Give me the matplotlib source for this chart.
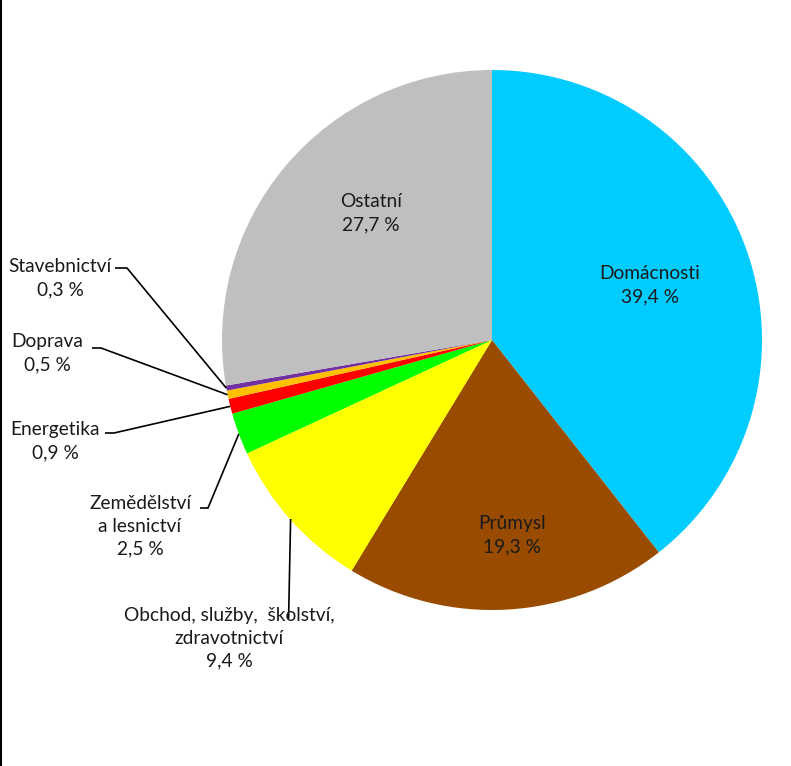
import matplotlib
matplotlib.use("Agg")
import matplotlib.pyplot as plt
import numpy as np
from matplotlib.lines import Line2D

categories = ["Domácnosti", "Průmysl", "Obchod, služby,  školství,\nzdravotnictví",
              "Zemědělství\na lesnictví", "Energetika", "Doprava", "Stavebnictví", "Ostatní"]
values = [39.4, 19.3, 9.4, 2.5, 0.9, 0.5, 0.3, 27.7]
colors = ["#00CCFF", "#994C00", "#FFFF00", "#00FF00", "#FF0000", "#FFC000", "#7030A0", "#BFBFBF"]

W, H = 791, 766
plt.rcParams['font.family'] = ['Lato', 'DejaVu Sans']
fig = plt.figure(figsize=(W / 100, H / 100), dpi=100)

cx, cy, R = 492, 340, 270
ax2 = fig.add_axes([0, 0, 1, 1])
wedges, _ = ax2.pie(values, colors=colors, startangle=90, counterclock=False,
                    center=(cx, H - cy), radius=R, frame=True,
                    wedgeprops=dict(linewidth=0))
ax2.set_xlim(0, W)
ax2.set_ylim(0, H)
ax2.axis("off")

ax = fig.add_axes([0, 0, 1, 1])
ax.set_xlim(0, W)
ax.set_ylim(H, 0)
ax.axis("off")
ax.patch.set_alpha(0)

def fmt(v):
    return f"{v:.1f}".replace(".", ",") + " %"

def edge_point(w, r=R):
    a = np.deg2rad((w.theta1 + w.theta2) / 2)
    return cx + r * np.cos(a), cy - r * np.sin(a)

fs = 13.8
tc = "#1a1a1a"
ls = 1.42
inside = {0: (650, 285), 1: (512, 535), 7: (371, 213)}
for i, (x, y) in inside.items():
    ax.text(x, y, f"{categories[i]}\n{fmt(values[i])}", ha="center", va="center",
            fontsize=fs, color=tc, linespacing=ls)

outside = {
    6: ((60, 278), [(115, 268), (127, 268)]),
    5: ((47, 353), [(92, 348), (101, 348)]),
    4: ((55, 441), [(105, 433), (114, 433)]),
    3: ((140, 526), [(200, 508), (208, 508)]),
}
for i, ((x, y), stub) in outside.items():
    ax.text(x, y, f"{categories[i]}\n{fmt(values[i])}", ha="center", va="center",
            fontsize=fs, color=tc, linespacing=ls)
    ex, ey = edge_point(wedges[i])
    xs = [p[0] for p in stub] + [ex]
    ys = [p[1] for p in stub] + [ey]
    ax.plot(xs, ys, color="black", lw=1.2, solid_capstyle="butt")

ax.text(229, 638, f"{categories[2]}\n{fmt(values[2])}", ha="center", va="center",
        fontsize=fs, color=tc, linespacing=ls)
ex, ey = edge_point(wedges[2])
ax.plot([ex, ex - 2], [ey, 618], color="black", lw=1.2)

fig.add_artist(Line2D([1.2 / W, 1.2 / W], [0, 1], transform=fig.transFigure, color="black", lw=1.5))

fig.savefig("out.png", dpi=100, facecolor="white")
